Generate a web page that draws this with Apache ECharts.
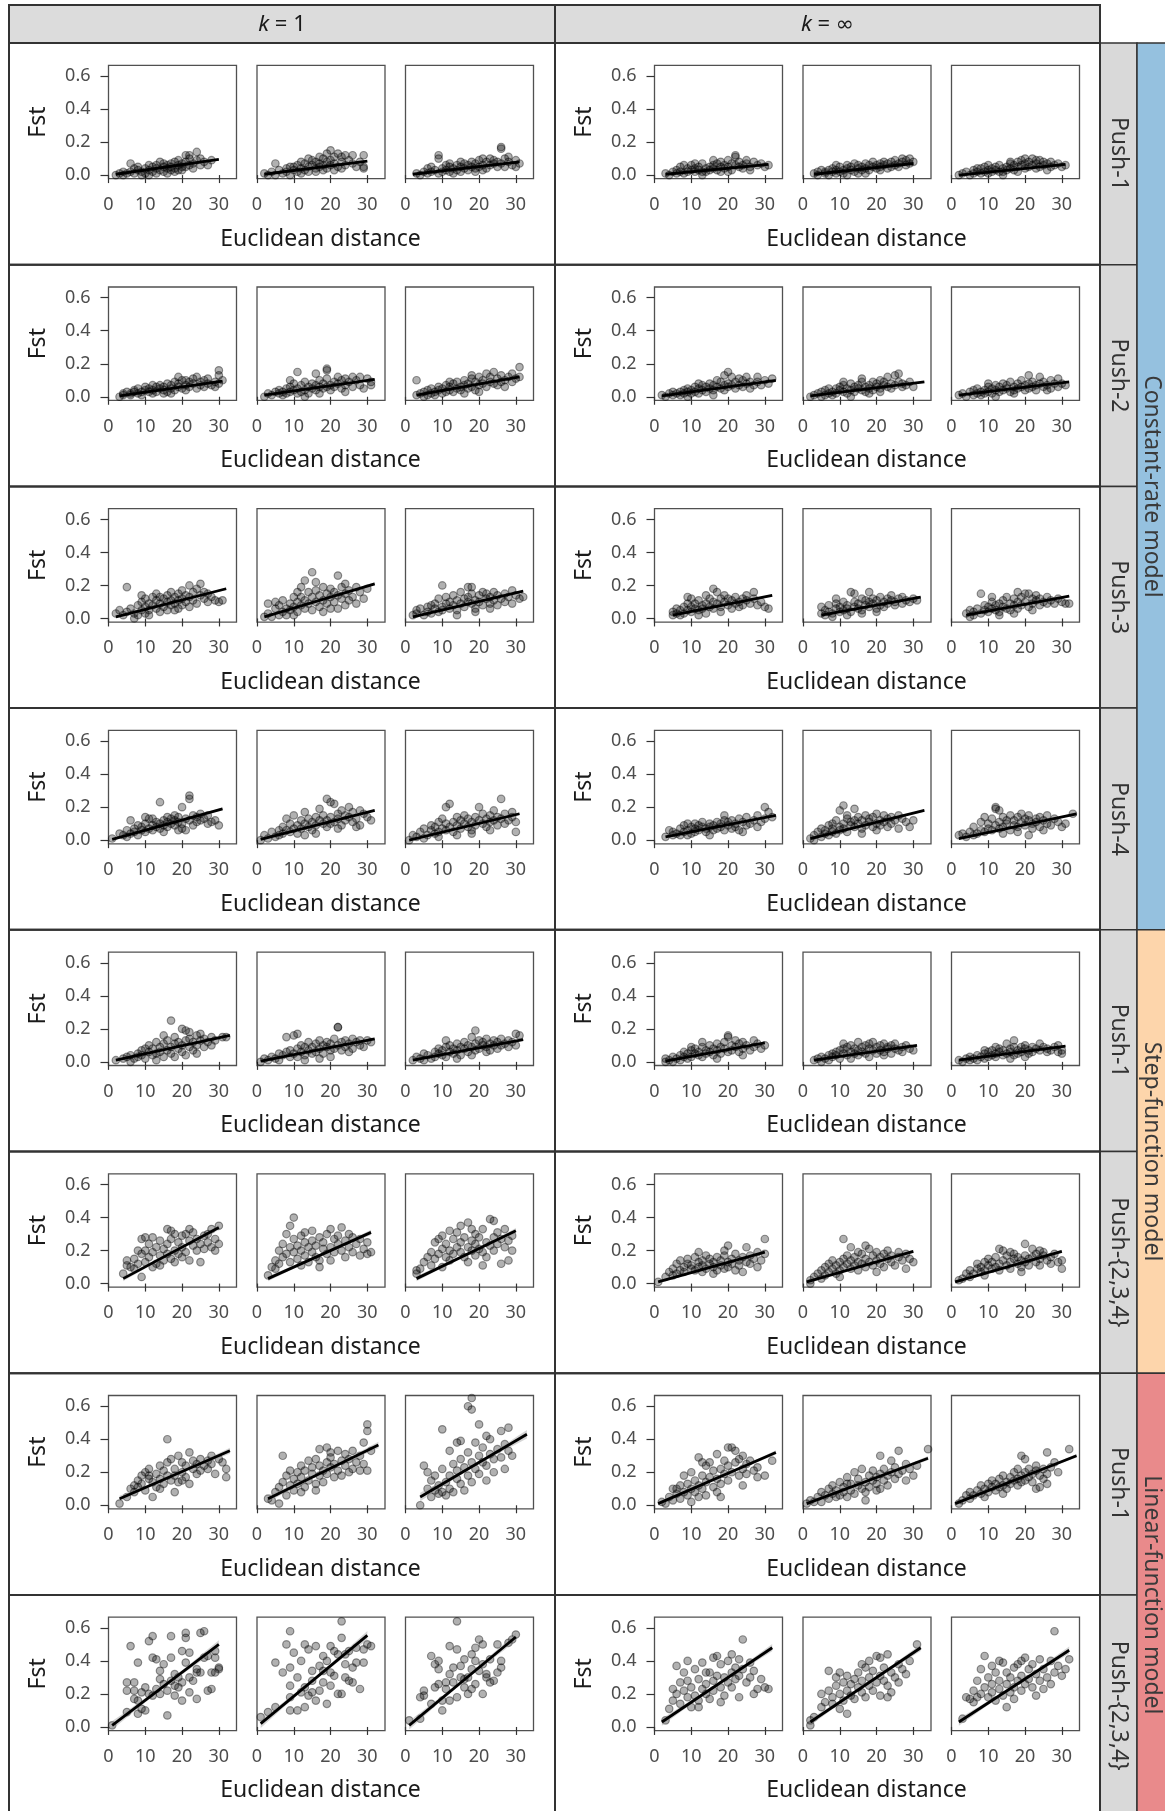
<!DOCTYPE html>
<html>
<head>
<meta charset="utf-8">
<script src="https://cdn.jsdelivr.net/npm/echarts@6/dist/echarts.min.js"></script>
<style>
  html, body { margin: 0; padding: 0; background: #ffffff; }
  #chart { width: 1165px; height: 1811px; }
</style>
</head>
<body>
<div id="chart"></div>
<script>
// ---- facet labels and axis ticks ----
const kLabels = ['1', '\u221E'];
const pushLabels = ['Push-1', 'Push-2', 'Push-3', 'Push-4', 'Push-1', 'Push-{2,3,4}', 'Push-1', 'Push-{2,3,4}'];
const modelLabels = ['Constant-rate model', 'Step-function model', 'Linear-function model'];
const modelRowSpans = [[0, 3], [4, 5], [6, 7]];
const modelColors = ['#95c1df', '#fdd5ab', '#e98a8b'];
const xTicks = [0, 10, 20, 30];
const yTicks = [0, 0.2, 0.4, 0.6];
const xTitle = 'Euclidean distance';
const yTitle = 'Fst';

// ---- pairwise points: each facet holds k=1 (3 panels) then k=inf (3 panels);
//      every panel is a flat list x, Fst, x, Fst, ... ----
const constPush1 = [
  [2,.00, 3,.01, 4,.02, 4,.00, 5,.01, 6,.07, 6,.02, 7,.01, 8,.03, 8,.05, 9,.02, 9,.00, 10,.04, 10,.01, 11,.03, 11,.06, 12,.02, 12,.05, 13,.04, 13,.01, 14,.08, 14,.03, 15,.05, 15,.02, 15,.07, 16,.04, 16,.06, 17,.03, 17,.07, 17,.05, 18,.08, 18,.04, 19,.06, 19,.09, 20,.05, 20,.07, 20,.03, 21,.12, 21,.08, 22,.06, 22,.12, 22,.10, 23,.07, 23,.04, 24,.14, 24,.09, 25,.06, 25,.10, 26,.08, 27,.06, 28,.09, 18,.02, 13,.06, 11,.00, 7,.04, 19,.03, 16,.01, 21,.05],
  [2,.01, 4,.02, 5,.07, 5,.00, 6,.03, 7,.01, 8,.02, 8,.04, 9,.00, 10,.03, 10,.05, 11,.02, 11,.06, 12,.04, 12,.01, 13,.07, 13,.03, 14,.05, 14,.02, 15,.06, 15,.09, 16,.04, 16,.08, 16,.02, 17,.11, 17,.05, 17,.07, 18,.10, 18,.03, 18,.06, 19,.13, 19,.08, 19,.04, 20,.15, 20,.06, 20,.09, 21,.11, 21,.03, 21,.07, 22,.13, 22,.05, 23,.08, 23,.04, 24,.12, 24,.06, 25,.09, 26,.07, 27,.05, 28,.08, 29,.12, 29,.05, 29,.04, 14,.10, 12,.08, 9,.05, 23,.11, 26,.12, 3,.00],
  [3,.01, 4,.00, 5,.02, 6,.01, 6,.04, 7,.02, 8,.03, 9,.12, 9,.10, 9,.01, 10,.04, 10,.02, 11,.03, 11,.06, 12,.02, 12,.05, 13,.04, 13,.01, 14,.06, 14,.03, 15,.05, 15,.02, 16,.07, 16,.04, 17,.06, 17,.03, 18,.08, 18,.05, 19,.04, 19,.07, 20,.09, 20,.05, 21,.10, 21,.06, 22,.08, 22,.04, 23,.10, 23,.06, 24,.07, 24,.09, 25,.05, 25,.08, 26,.17, 26,.16, 26,.07, 27,.10, 27,.05, 28,.08, 29,.06, 30,.09, 30,.05, 31,.07, 15,.08, 19,.02, 12,.07, 7,.05, 21,.03, 28,.11],
  [3,.01, 4,.00, 5,.02, 6,.01, 6,.03, 7,.05, 7,.02, 8,.01, 9,.04, 9,.02, 10,.03, 10,.06, 11,.02, 11,.04, 12,.03, 12,.05, 13,.02, 13,.07, 14,.04, 14,.02, 15,.05, 15,.03, 16,.06, 16,.04, 17,.03, 17,.07, 18,.05, 18,.08, 19,.04, 19,.06, 20,.09, 20,.05, 21,.07, 21,.03, 22,.12, 22,.11, 22,.06, 23,.08, 23,.05, 24,.06, 24,.04, 25,.07, 25,.09, 26,.05, 27,.08, 28,.06, 29,.07, 30,.05, 31,.06, 8,.06, 13,.00, 18,.02, 26,.03, 16,.09, 11,.07, 20,.02],
  [3,.01, 4,.02, 4,.00, 5,.03, 6,.01, 6,.02, 7,.03, 7,.00, 8,.02, 8,.04, 9,.01, 9,.03, 10,.05, 10,.02, 11,.03, 11,.01, 12,.04, 12,.06, 13,.03, 13,.05, 14,.02, 14,.07, 15,.04, 15,.06, 16,.03, 16,.05, 17,.07, 17,.04, 18,.06, 18,.03, 19,.05, 19,.08, 20,.06, 20,.04, 21,.07, 21,.05, 22,.08, 22,.06, 23,.04, 23,.07, 24,.08, 24,.05, 25,.06, 25,.09, 26,.07, 26,.05, 27,.10, 27,.08, 28,.09, 28,.06, 29,.07, 29,.10, 30,.08, 12,.00, 17,.01, 21,.03, 9,.06, 15,.01],
  [2,.00, 3,.01, 4,.02, 5,.00, 6,.01, 6,.03, 7,.02, 8,.04, 8,.01, 9,.02, 9,.05, 10,.03, 10,.01, 11,.04, 11,.02, 12,.05, 12,.03, 13,.02, 13,.06, 14,.04, 14,.02, 15,.05, 15,.03, 16,.07, 16,.04, 17,.06, 17,.03, 18,.08, 18,.05, 19,.09, 19,.06, 20,.10, 20,.04, 20,.07, 21,.08, 21,.05, 22,.10, 22,.06, 23,.07, 23,.04, 24,.09, 24,.05, 25,.08, 25,.06, 26,.07, 27,.05, 27,.08, 28,.06, 29,.07, 30,.05, 31,.06, 10,.06, 14,.00, 18,.02, 23,.09, 26,.03, 7,.04, 16,.08]
];
const constPush2 = [
  [3,.00, 4,.01, 4,.02, 5,.03, 6,.01, 6,.02, 7,.03, 7,.04, 8,.02, 8,.05, 9,.03, 9,.01, 10,.04, 10,.06, 11,.03, 11,.05, 12,.04, 12,.02, 13,.06, 13,.03, 14,.05, 14,.07, 15,.04, 15,.06, 16,.03, 16,.08, 17,.05, 17,.07, 18,.04, 18,.09, 19,.12, 19,.06, 19,.08, 20,.05, 20,.10, 21,.07, 21,.04, 22,.09, 22,.06, 23,.11, 23,.08, 24,.12, 24,.05, 25,.09, 25,.07, 26,.10, 26,.06, 27,.08, 27,.11, 28,.07, 29,.09, 29,.06, 30,.16, 30,.13, 30,.08, 31,.10, 15,.02, 12,.07, 21,.10, 17,.02],
  [2,.00, 3,.02, 4,.01, 5,.03, 6,.02, 6,.04, 7,.01, 7,.03, 8,.05, 8,.02, 9,.03, 9,.06, 10,.04, 10,.08, 11,.15, 11,.02, 11,.05, 12,.03, 12,.07, 13,.04, 13,.09, 14,.06, 14,.02, 15,.05, 15,.08, 16,.14, 16,.04, 16,.07, 17,.06, 17,.10, 18,.05, 18,.08, 19,.17, 19,.16, 19,.06, 19,.11, 20,.07, 20,.04, 21,.09, 21,.06, 22,.12, 22,.08, 23,.05, 23,.10, 24,.07, 24,.03, 25,.09, 26,.12, 26,.06, 27,.10, 28,.07, 28,.12, 29,.05, 30,.11, 31,.09, 31,.07, 13,.00, 17,.02, 9,.10, 24,.11],
  [3,.10, 3,.01, 4,.02, 5,.00, 5,.03, 6,.01, 6,.04, 7,.02, 7,.05, 8,.03, 8,.01, 9,.04, 9,.06, 10,.02, 10,.05, 11,.03, 11,.07, 12,.04, 12,.06, 13,.08, 13,.03, 14,.05, 14,.09, 15,.06, 15,.04, 16,.07, 16,.10, 17,.05, 17,.08, 18,.11, 18,.06, 19,.09, 19,.04, 20,.07, 20,.12, 21,.08, 21,.10, 22,.14, 22,.06, 23,.09, 23,.12, 24,.15, 24,.08, 25,.11, 25,.07, 26,.13, 26,.09, 27,.10, 27,.06, 28,.12, 29,.09, 29,.14, 30,.11, 31,.18, 31,.12, 16,.02, 12,.09, 20,.03, 18,.13],
  [2,.01, 3,.00, 4,.02, 5,.03, 5,.01, 6,.02, 7,.03, 7,.01, 8,.04, 8,.02, 9,.03, 9,.05, 10,.02, 10,.04, 11,.06, 11,.03, 12,.05, 12,.02, 13,.04, 13,.07, 14,.06, 14,.03, 15,.08, 15,.05, 16,.04, 16,.07, 17,.10, 17,.06, 18,.05, 18,.09, 19,.13, 19,.07, 19,.04, 20,.15, 20,.08, 20,.06, 21,.12, 21,.07, 22,.05, 22,.09, 23,.11, 23,.07, 24,.06, 24,.10, 25,.08, 26,.05, 26,.09, 27,.07, 28,.12, 28,.09, 29,.07, 30,.10, 31,.08, 32,.11, 12,.08, 16,.01, 25,.12, 9,.00],
  [2,.00, 3,.01, 4,.02, 5,.00, 5,.03, 6,.01, 6,.04, 7,.02, 8,.03, 8,.01, 9,.05, 9,.02, 10,.04, 10,.06, 11,.03, 11,.07, 12,.02, 12,.05, 13,.04, 13,.08, 14,.03, 14,.06, 15,.05, 15,.07, 16,.04, 16,.09, 17,.06, 17,.03, 18,.07, 18,.05, 19,.09, 19,.04, 20,.06, 20,.08, 21,.10, 21,.05, 22,.07, 22,.09, 23,.12, 23,.06, 24,.08, 24,.05, 25,.13, 25,.07, 26,.14, 26,.09, 27,.06, 27,.08, 28,.07, 29,.09, 30,.06, 13,.00, 18,.02, 11,.09, 21,.03, 16,.11, 7,.05],
  [2,.01, 3,.02, 4,.00, 5,.03, 6,.01, 6,.04, 7,.02, 7,.05, 8,.03, 8,.01, 9,.04, 9,.02, 10,.06, 10,.03, 11,.05, 11,.02, 12,.04, 12,.07, 13,.03, 13,.06, 14,.08, 14,.04, 15,.05, 15,.07, 16,.03, 16,.09, 17,.06, 17,.04, 18,.08, 18,.05, 19,.10, 19,.06, 20,.07, 20,.04, 21,.13, 21,.08, 21,.05, 22,.09, 22,.06, 23,.07, 23,.04, 24,.12, 24,.08, 25,.06, 25,.09, 26,.07, 27,.10, 27,.05, 28,.08, 29,.11, 29,.06, 30,.08, 31,.07, 12,.00, 17,.02, 10,.08, 26,.04]
];
const constPush3 = [
  [2,.03, 3,.05, 4,.02, 5,.19, 5,.04, 6,.06, 7,.00, 7,.03, 8,.08, 8,.02, 9,.05, 9,.10, 10,.07, 10,.12, 10,.03, 11,.09, 11,.05, 12,.13, 12,.08, 13,.06, 13,.11, 13,.15, 14,.09, 14,.04, 15,.12, 15,.07, 16,.14, 16,.10, 16,.05, 17,.11, 17,.16, 17,.08, 18,.13, 18,.09, 19,.15, 19,.06, 19,.11, 20,.17, 20,.12, 20,.08, 21,.14, 21,.10, 22,.20, 22,.13, 22,.07, 23,.16, 23,.11, 24,.18, 24,.09, 25,.21, 25,.14, 26,.12, 26,.16, 27,.10, 27,.15, 28,.13, 29,.11, 30,.10, 31,.11, 14,.13, 11,.02, 18,.05, 9,.14],
  [2,.01, 3,.09, 3,.03, 4,.01, 5,.06, 5,.10, 6,.02, 6,.08, 7,.04, 7,.11, 8,.06, 8,.02, 9,.09, 9,.05, 10,.13, 10,.07, 11,.04, 11,.16, 11,.10, 12,.08, 12,.13, 13,.23, 13,.06, 13,.11, 14,.16, 14,.09, 15,.28, 15,.05, 15,.13, 16,.22, 16,.10, 16,.17, 17,.07, 17,.14, 18,.19, 18,.11, 19,.09, 19,.15, 20,.13, 20,.18, 20,.06, 21,.16, 21,.10, 22,.26, 22,.14, 22,.06, 23,.19, 23,.12, 24,.15, 24,.21, 25,.11, 25,.17, 26,.13, 27,.19, 27,.09, 28,.16, 29,.12, 30,.18, 10,.02, 18,.04, 12,.19, 24,.08],
  [2,.02, 3,.05, 3,.03, 4,.06, 5,.02, 6,.07, 6,.04, 7,.03, 8,.06, 8,.09, 9,.04, 9,.12, 10,.20, 10,.07, 10,.05, 11,.09, 11,.13, 12,.06, 12,.10, 13,.08, 13,.14, 14,.11, 14,.05, 15,.09, 15,.16, 16,.12, 16,.07, 17,.19, 17,.10, 17,.13, 18,.19, 18,.09, 18,.15, 19,.11, 19,.06, 20,.14, 20,.10, 21,.16, 21,.08, 22,.12, 22,.15, 23,.09, 23,.13, 24,.11, 24,.16, 25,.14, 25,.08, 26,.12, 27,.15, 27,.10, 28,.13, 29,.17, 29,.09, 30,.14, 31,.12, 32,.13, 14,.02, 19,.04, 7,.08, 23,.06],
  [5,.02, 5,.04, 6,.03, 6,.06, 7,.02, 7,.05, 8,.07, 8,.03, 9,.05, 9,.09, 10,.04, 10,.12, 10,.07, 11,.06, 11,.09, 12,.05, 12,.11, 13,.08, 13,.06, 14,.14, 14,.09, 15,.07, 15,.12, 16,.18, 16,.10, 16,.06, 17,.16, 17,.09, 18,.12, 18,.07, 19,.10, 19,.14, 20,.08, 20,.12, 21,.11, 21,.06, 22,.13, 22,.09, 23,.10, 23,.07, 24,.12, 24,.08, 25,.11, 26,.09, 27,.16, 27,.12, 28,.08, 29,.10, 30,.07, 31,.06, 12,.02, 18,.04, 9,.13, 25,.14, 14,.03],
  [5,.03, 5,.07, 6,.02, 6,.05, 7,.04, 7,.08, 8,.01, 8,.03, 9,.06, 9,.09, 10,.04, 10,.07, 11,.05, 11,.10, 12,.06, 12,.08, 13,.16, 13,.04, 14,.15, 14,.07, 14,.10, 15,.06, 15,.09, 16,.12, 16,.05, 17,.08, 17,.11, 18,.16, 18,.07, 18,.10, 19,.09, 19,.12, 20,.06, 20,.11, 21,.08, 21,.13, 22,.10, 22,.07, 23,.12, 23,.09, 24,.11, 24,.14, 25,.08, 25,.10, 26,.12, 27,.09, 27,.13, 28,.11, 29,.10, 30,.12, 31,.11, 12,.02, 16,.03, 20,.04, 9,.12],
  [4,.03, 5,.01, 5,.05, 6,.02, 6,.04, 7,.06, 8,.15, 8,.03, 9,.05, 9,.08, 10,.04, 10,.07, 11,.06, 11,.10, 12,.05, 12,.08, 13,.09, 13,.04, 14,.11, 14,.07, 15,.06, 15,.13, 16,.09, 16,.05, 17,.12, 17,.08, 18,.16, 18,.10, 18,.06, 19,.13, 19,.08, 20,.15, 20,.10, 21,.15, 21,.07, 22,.12, 22,.09, 23,.11, 23,.14, 24,.08, 24,.12, 25,.10, 26,.13, 26,.09, 27,.11, 28,.09, 29,.12, 30,.10, 31,.09, 32,.09, 13,.02, 17,.03, 11,.13, 22,.05]
];
const constPush4 = [
  [1,.01, 3,.04, 4,.03, 5,.02, 5,.06, 6,.12, 6,.04, 7,.07, 7,.05, 8,.03, 8,.09, 9,.06, 9,.08, 10,.10, 10,.05, 11,.07, 11,.13, 12,.09, 12,.06, 13,.11, 13,.08, 14,.23, 14,.10, 14,.07, 15,.12, 15,.09, 16,.14, 16,.11, 16,.08, 17,.13, 17,.10, 18,.12, 18,.15, 18,.09, 19,.11, 19,.14, 20,.20, 20,.10, 20,.07, 21,.13, 21,.06, 22,.27, 22,.25, 22,.12, 23,.15, 23,.09, 24,.14, 24,.11, 25,.16, 25,.12, 26,.13, 27,.10, 27,.15, 28,.11, 29,.12, 30,.09, 15,.05, 12,.13, 19,.06, 10,.14],
  [1,.00, 2,.03, 3,.01, 4,.05, 5,.02, 6,.06, 6,.03, 7,.08, 7,.04, 8,.13, 8,.06, 9,.10, 9,.05, 10,.07, 10,.15, 11,.09, 11,.04, 12,.12, 12,.07, 13,.10, 13,.17, 14,.08, 14,.13, 15,.11, 15,.06, 16,.14, 16,.09, 17,.12, 17,.19, 18,.10, 18,.15, 19,.25, 19,.12, 19,.08, 20,.23, 20,.14, 20,.10, 21,.22, 21,.11, 22,.16, 22,.13, 23,.18, 23,.09, 24,.15, 24,.12, 25,.20, 25,.14, 26,.11, 26,.17, 27,.13, 28,.18, 28,.09, 29,.16, 30,.14, 31,.12, 16,.04, 13,.03, 22,.07, 27,.08],
  [1,.00, 2,.03, 3,.02, 4,.05, 5,.01, 5,.07, 6,.03, 7,.06, 7,.09, 8,.04, 8,.08, 9,.05, 9,.11, 10,.07, 10,.13, 11,.20, 11,.06, 11,.10, 12,.22, 12,.08, 13,.11, 13,.05, 14,.09, 14,.14, 15,.07, 15,.12, 16,.10, 16,.15, 17,.08, 17,.13, 18,.11, 18,.06, 19,.14, 19,.09, 20,.20, 20,.12, 21,.10, 21,.16, 22,.13, 22,.08, 23,.15, 23,.11, 24,.12, 24,.18, 25,.09, 25,.14, 26,.25, 26,.13, 27,.16, 27,.10, 28,.12, 29,.17, 29,.14, 30,.05, 30,.11, 14,.03, 18,.04, 23,.06, 9,.02],
  [3,.02, 4,.06, 5,.03, 5,.05, 6,.04, 7,.07, 7,.03, 8,.09, 8,.05, 9,.06, 9,.10, 10,.04, 10,.08, 11,.07, 11,.05, 12,.09, 12,.06, 13,.11, 13,.08, 14,.07, 14,.05, 15,.10, 15,.08, 16,.06, 16,.09, 17,.11, 17,.07, 18,.08, 18,.10, 19,.15, 19,.06, 20,.09, 20,.11, 21,.07, 21,.12, 22,.10, 22,.08, 23,.13, 23,.06, 24,.11, 25,.09, 25,.14, 26,.10, 27,.12, 28,.15, 28,.08, 29,.11, 30,.20, 30,.13, 31,.17, 32,.14, 11,.10, 15,.03, 19,.12, 24,.05, 9,.03],
  [2,.01, 3,.00, 3,.03, 4,.05, 5,.02, 5,.07, 6,.04, 6,.06, 7,.09, 7,.03, 8,.07, 8,.05, 9,.12, 9,.04, 10,.18, 10,.08, 10,.06, 11,.21, 11,.10, 11,.07, 12,.13, 12,.05, 13,.09, 13,.11, 14,.19, 14,.08, 14,.12, 15,.10, 15,.14, 16,.07, 16,.12, 17,.15, 17,.09, 18,.11, 18,.13, 19,.08, 19,.14, 20,.10, 20,.16, 21,.12, 21,.09, 22,.15, 22,.11, 23,.13, 23,.08, 24,.14, 24,.10, 25,.12, 26,.15, 26,.07, 27,.13, 28,.11, 29,.08, 30,.12, 12,.15, 16,.04, 20,.06, 8,.10],
  [2,.03, 3,.04, 4,.02, 5,.05, 6,.03, 6,.08, 7,.04, 8,.06, 8,.11, 9,.05, 9,.14, 10,.07, 10,.10, 11,.13, 11,.06, 12,.20, 12,.19, 12,.09, 13,.18, 13,.11, 13,.07, 14,.14, 14,.08, 15,.10, 15,.12, 16,.06, 16,.15, 17,.09, 17,.12, 18,.14, 18,.08, 19,.11, 19,.16, 20,.13, 20,.09, 21,.12, 21,.15, 22,.10, 22,.07, 23,.13, 23,.11, 24,.14, 24,.08, 25,.12, 26,.10, 26,.15, 27,.09, 28,.13, 29,.11, 30,.08, 31,.10, 33,.16, 14,.04, 18,.05, 21,.03, 25,.06]
];
const stepPush1 = [
  [2,.01, 4,.02, 5,.03, 6,.00, 6,.04, 7,.02, 8,.05, 8,.03, 9,.07, 9,.04, 10,.08, 10,.02, 11,.06, 11,.10, 12,.04, 12,.08, 13,.12, 13,.05, 14,.09, 14,.06, 15,.11, 15,.03, 16,.07, 16,.13, 17,.25, 17,.09, 17,.05, 18,.11, 18,.15, 19,.08, 19,.12, 20,.20, 20,.06, 20,.10, 21,.19, 21,.13, 21,.04, 22,.18, 22,.09, 22,.14, 23,.12, 23,.07, 24,.16, 24,.10, 25,.13, 25,.17, 26,.09, 26,.14, 27,.12, 28,.15, 28,.10, 29,.13, 31,.15, 32,.15, 13,.01, 18,.03, 24,.05, 15,.16],
  [1,.00, 2,.02, 3,.01, 4,.03, 5,.02, 6,.05, 6,.01, 7,.04, 8,.15, 8,.06, 9,.03, 9,.07, 10,.16, 10,.05, 11,.17, 11,.08, 11,.03, 12,.06, 12,.10, 13,.04, 13,.09, 14,.07, 14,.12, 15,.05, 15,.09, 16,.11, 16,.06, 17,.08, 17,.13, 18,.10, 18,.05, 19,.09, 19,.12, 20,.07, 20,.11, 21,.14, 21,.08, 22,.21, 22,.21, 22,.10, 23,.12, 23,.07, 24,.13, 24,.09, 25,.11, 26,.14, 26,.08, 27,.12, 28,.13, 28,.10, 29,.09, 30,.13, 31,.12, 13,.01, 17,.02, 20,.03, 25,.06],
  [2,.01, 3,.03, 4,.02, 5,.05, 5,.01, 6,.04, 7,.02, 8,.06, 8,.03, 9,.05, 9,.08, 10,.04, 10,.07, 11,.09, 11,.03, 12,.06, 12,.10, 13,.08, 13,.05, 14,.11, 14,.07, 15,.09, 15,.04, 16,.12, 16,.08, 17,.06, 17,.10, 18,.15, 18,.09, 19,.19, 19,.11, 19,.07, 20,.13, 20,.08, 21,.10, 21,.12, 22,.09, 22,.14, 23,.11, 23,.07, 24,.13, 24,.10, 25,.08, 25,.12, 26,.14, 26,.10, 27,.11, 28,.09, 28,.13, 29,.12, 30,.17, 30,.10, 31,.16, 14,.02, 18,.04, 22,.06, 11,.13],
  [3,.00, 3,.02, 4,.01, 5,.03, 5,.00, 6,.02, 7,.04, 7,.01, 8,.03, 8,.06, 9,.02, 9,.05, 10,.07, 10,.03, 11,.05, 11,.08, 12,.04, 12,.06, 13,.09, 13,.03, 14,.07, 14,.05, 15,.10, 15,.06, 16,.08, 16,.04, 17,.11, 17,.07, 18,.09, 18,.05, 19,.12, 19,.08, 20,.16, 20,.15, 20,.06, 21,.10, 21,.07, 22,.13, 22,.09, 23,.11, 23,.06, 24,.08, 24,.12, 25,.10, 26,.07, 27,.13, 27,.09, 28,.11, 29,.08, 30,.10, 13,.12, 17,.02, 10,.09, 24,.04],
  [3,.01, 4,.02, 5,.00, 5,.03, 6,.02, 7,.04, 7,.01, 8,.03, 8,.05, 9,.04, 9,.06, 10,.02, 10,.07, 11,.05, 11,.08, 12,.04, 12,.09, 13,.06, 13,.10, 14,.05, 14,.08, 15,.12, 15,.07, 15,.04, 16,.09, 16,.06, 17,.10, 17,.05, 18,.08, 18,.11, 19,.12, 19,.07, 20,.09, 20,.05, 21,.10, 21,.07, 22,.11, 22,.06, 23,.09, 23,.08, 24,.10, 24,.05, 25,.08, 25,.11, 26,.07, 27,.09, 27,.06, 28,.10, 29,.08, 30,.07, 13,.02, 18,.03, 22,.04, 11,.11],
  [2,.01, 3,.00, 4,.02, 5,.01, 5,.03, 6,.02, 7,.04, 7,.01, 8,.03, 9,.05, 9,.02, 10,.06, 10,.03, 11,.04, 11,.07, 12,.05, 12,.03, 13,.08, 13,.06, 14,.04, 14,.07, 15,.11, 15,.05, 16,.08, 16,.06, 17,.13, 17,.09, 17,.04, 18,.07, 18,.05, 19,.09, 19,.06, 20,.08, 20,.10, 21,.07, 21,.05, 22,.09, 22,.06, 23,.08, 24,.11, 24,.07, 25,.09, 26,.06, 26,.08, 27,.07, 28,.09, 29,.10, 29,.06, 30,.05, 30,.07, 12,.09, 16,.02, 20,.03, 9,.07]
];
const stepPush234 = [
  [4,.06, 5,.14, 5,.11, 6,.10, 7,.09, 7,.15, 8,.20, 8,.12, 9,.04, 9,.27, 9,.18, 10,.28, 10,.13, 10,.20, 11,.16, 11,.24, 12,.10, 12,.19, 13,.22, 13,.12, 14,.17, 14,.26, 15,.14, 15,.21, 16,.33, 16,.18, 16,.24, 17,.32, 17,.15, 17,.27, 18,.20, 18,.13, 19,.25, 19,.18, 20,.29, 20,.16, 20,.22, 21,.30, 21,.19, 22,.26, 22,.14, 23,.23, 23,.31, 24,.20, 24,.27, 25,.13, 25,.24, 26,.29, 26,.21, 27,.25, 27,.30, 28,.22, 28,.33, 29,.27, 29,.20, 30,.35, 30,.24, 18,.30, 12,.28, 22,.33, 14,.11],
  [3,.05, 4,.10, 5,.09, 5,.14, 6,.20, 6,.12, 7,.24, 7,.16, 8,.18, 8,.30, 9,.35, 9,.22, 9,.13, 10,.40, 10,.19, 10,.27, 11,.15, 11,.23, 12,.29, 12,.11, 12,.20, 13,.17, 13,.25, 14,.22, 14,.13, 15,.32, 15,.19, 15,.26, 16,.16, 16,.23, 17,.28, 17,.14, 18,.21, 18,.25, 19,.18, 19,.30, 20,.22, 20,.14, 21,.27, 21,.19, 22,.24, 22,.29, 23,.34, 23,.20, 24,.26, 24,.16, 25,.22, 25,.30, 26,.19, 26,.28, 27,.24, 28,.17, 28,.27, 29,.21, 30,.18, 30,.25, 31,.19, 17,.10, 13,.31, 20,.33],
  [3,.06, 3,.08, 4,.09, 5,.13, 6,.16, 7,.11, 7,.19, 8,.15, 8,.25, 9,.18, 9,.27, 10,.10, 10,.21, 10,.29, 11,.16, 11,.24, 12,.20, 12,.14, 13,.27, 13,.18, 14,.22, 14,.31, 15,.35, 15,.19, 15,.25, 16,.28, 16,.16, 17,.37, 17,.22, 17,.13, 18,.26, 18,.20, 19,.30, 19,.17, 19,.24, 20,.21, 20,.28, 21,.33, 21,.19, 22,.25, 22,.16, 23,.39, 23,.23, 24,.38, 24,.28, 24,.20, 25,.31, 25,.24, 26,.27, 26,.12, 27,.22, 27,.33, 28,.26, 28,.14, 29,.29, 29,.20, 12,.32, 18,.33, 21,.11],
  [1,.01, 3,.04, 4,.07, 5,.05, 5,.09, 6,.06, 6,.12, 7,.08, 7,.14, 8,.10, 8,.07, 9,.12, 9,.15, 10,.09, 10,.11, 11,.16, 11,.08, 12,.19, 12,.13, 12,.10, 13,.11, 13,.14, 14,.09, 14,.17, 15,.12, 15,.15, 16,.10, 16,.13, 17,.16, 17,.08, 18,.14, 18,.11, 19,.17, 19,.09, 20,.23, 20,.13, 20,.10, 21,.15, 21,.12, 22,.18, 22,.08, 23,.14, 23,.11, 24,.16, 24,.07, 25,.22, 25,.13, 26,.17, 26,.12, 27,.15, 28,.19, 28,.10, 29,.14, 30,.27, 30,.18, 16,.06, 13,.07, 19,.20],
  [2,.00, 2,.02, 3,.04, 4,.06, 5,.03, 5,.08, 6,.10, 6,.05, 7,.07, 7,.12, 8,.09, 8,.14, 9,.06, 9,.11, 10,.13, 10,.08, 11,.27, 11,.15, 11,.10, 12,.12, 12,.17, 13,.22, 13,.09, 13,.14, 14,.11, 14,.16, 15,.13, 15,.08, 16,.18, 16,.12, 17,.23, 17,.15, 17,.10, 18,.21, 18,.13, 19,.17, 19,.11, 20,.14, 20,.19, 21,.12, 21,.16, 22,.18, 22,.10, 23,.15, 23,.20, 24,.13, 24,.17, 25,.11, 26,.16, 26,.19, 27,.14, 28,.18, 28,.09, 29,.15, 30,.13, 10,.04, 15,.19, 20,.07],
  [2,.02, 3,.03, 4,.06, 5,.04, 5,.08, 6,.06, 7,.09, 7,.12, 8,.07, 8,.10, 9,.13, 9,.08, 10,.11, 10,.15, 11,.09, 11,.13, 12,.16, 12,.10, 13,.21, 13,.12, 13,.08, 14,.20, 14,.14, 15,.11, 15,.17, 16,.13, 16,.09, 17,.15, 17,.18, 18,.12, 18,.16, 19,.14, 19,.10, 20,.24, 20,.17, 20,.13, 21,.15, 21,.11, 22,.21, 22,.16, 23,.13, 23,.18, 24,.15, 24,.11, 25,.17, 25,.19, 26,.14, 27,.16, 27,.12, 28,.18, 29,.13, 30,.09, 30,.14, 16,.19, 9,.05, 19,.07, 24,.20]
];
const linPush1 = [
  [3,.01, 5,.05, 6,.10, 7,.12, 7,.08, 8,.15, 8,.11, 9,.18, 9,.13, 10,.20, 10,.09, 11,.16, 11,.22, 12,.05, 12,.14, 13,.19, 13,.11, 14,.24, 14,.16, 15,.21, 15,.13, 16,.40, 16,.18, 16,.26, 17,.28, 17,.15, 18,.22, 18,.08, 18,.18, 19,.30, 19,.14, 20,.20, 20,.26, 21,.17, 21,.24, 22,.32, 22,.13, 23,.22, 23,.27, 24,.19, 24,.25, 25,.28, 25,.21, 26,.24, 27,.27, 27,.22, 28,.30, 28,.25, 29,.19, 30,.28, 31,.26, 32,.17, 32,.22, 14,.10, 20,.15, 11,.18],
  [3,.04, 4,.03, 5,.08, 6,.01, 6,.11, 7,.14, 7,.30, 8,.06, 8,.18, 9,.12, 9,.21, 10,.16, 10,.09, 11,.20, 11,.13, 12,.24, 12,.17, 13,.11, 13,.21, 14,.27, 14,.15, 15,.19, 15,.23, 16,.13, 16,.28, 17,.34, 17,.18, 17,.24, 18,.21, 18,.14, 19,.35, 19,.26, 19,.19, 20,.23, 20,.29, 21,.17, 21,.25, 22,.33, 22,.21, 23,.27, 23,.18, 24,.31, 24,.24, 25,.20, 25,.28, 26,.33, 26,.22, 27,.26, 28,.30, 28,.21, 29,.38, 29,.25, 30,.49, 30,.45, 30,.21, 31,.33, 12,.08, 20,.32, 16,.09],
  [4,.00, 5,.24, 6,.10, 6,.20, 7,.05, 7,.15, 8,.09, 8,.18, 9,.07, 9,.12, 10,.46, 10,.22, 10,.08, 11,.14, 11,.06, 12,.18, 12,.10, 13,.25, 13,.08, 14,.16, 14,.21, 15,.39, 15,.13, 15,.28, 16,.09, 16,.23, 17,.60, 17,.18, 17,.32, 18,.65, 18,.58, 18,.26, 18,.14, 19,.22, 19,.38, 20,.49, 20,.30, 20,.19, 21,.26, 21,.35, 22,.24, 22,.15, 23,.31, 23,.40, 24,.28, 24,.20, 25,.34, 26,.45, 26,.29, 27,.37, 27,.22, 28,.47, 28,.33, 29,.30, 14,.38, 12,.33, 22,.42],
  [2,.02, 3,.01, 4,.05, 5,.10, 5,.03, 6,.07, 6,.10, 7,.04, 7,.12, 8,.08, 8,.18, 9,.13, 9,.06, 10,.20, 10,.10, 11,.15, 11,.08, 12,.29, 12,.12, 12,.05, 13,.18, 13,.10, 14,.24, 14,.14, 14,.06, 15,.17, 15,.26, 16,.11, 16,.21, 17,.31, 17,.16, 17,.08, 18,.22, 18,.13, 19,.27, 19,.19, 20,.35, 20,.24, 20,.15, 21,.35, 21,.20, 22,.33, 22,.26, 23,.18, 23,.28, 24,.22, 24,.30, 25,.19, 25,.25, 26,.27, 27,.21, 28,.23, 28,.17, 30,.18, 32,.27, 13,.26, 10,.02, 18,.05, 24,.12],
  [1,.01, 2,.03, 3,.02, 4,.05, 5,.08, 5,.02, 6,.06, 7,.10, 7,.04, 8,.07, 8,.12, 9,.05, 9,.09, 10,.14, 10,.06, 11,.11, 11,.08, 12,.17, 12,.05, 13,.09, 13,.13, 14,.20, 14,.07, 15,.12, 15,.16, 16,.10, 16,.22, 17,.14, 17,.08, 18,.18, 18,.11, 19,.15, 19,.21, 20,.13, 20,.17, 21,.30, 21,.19, 21,.10, 22,.15, 22,.22, 23,.18, 23,.12, 24,.27, 24,.20, 25,.16, 25,.23, 26,.33, 26,.19, 27,.21, 28,.25, 28,.15, 29,.22, 30,.18, 31,.24, 34,.34, 17,.03, 12,.13, 20,.09],
  [2,.01, 3,.03, 4,.06, 5,.04, 5,.08, 6,.06, 7,.09, 8,.12, 8,.07, 9,.10, 9,.05, 10,.13, 10,.08, 11,.11, 11,.15, 12,.09, 12,.13, 13,.16, 13,.11, 14,.12, 14,.18, 15,.14, 15,.10, 16,.17, 16,.13, 17,.15, 17,.20, 18,.16, 18,.12, 19,.30, 19,.18, 19,.14, 20,.28, 20,.20, 20,.15, 21,.17, 21,.22, 22,.19, 22,.14, 23,.21, 23,.24, 24,.18, 24,.11, 25,.22, 25,.16, 26,.32, 26,.19, 26,.13, 27,.23, 28,.26, 29,.20, 32,.34, 14,.07, 18,.22, 23,.10]
];
const linPush234 = [
  [1,.01, 5,.27, 5,.22, 5,.09, 6,.49, 7,.22, 7,.27, 7,.17, 8,.16, 8,.39, 8,.08, 9,.21, 9,.11, 10,.10, 10,.24, 11,.52, 11,.20, 12,.55, 12,.42, 12,.19, 13,.41, 13,.23, 14,.34, 14,.20, 15,.26, 15,.38, 16,.22, 16,.07, 17,.55, 17,.42, 17,.28, 18,.25, 18,.19, 19,.30, 19,.24, 20,.46, 20,.16, 20,.27, 21,.57, 21,.54, 21,.39, 22,.30, 22,.21, 23,.28, 24,.33, 24,.17, 24,.35, 25,.57, 25,.33, 26,.58, 26,.42, 27,.43, 27,.22, 28,.33, 28,.23, 29,.46, 29,.42, 29,.33, 30,.36, 30,.35, 18,.32, 14,.29, 22,.45],
  [1,.06, 3,.09, 5,.12, 5,.39, 7,.33, 8,.50, 9,.58, 9,.36, 9,.25, 9,.18, 9,.10, 11,.10, 11,.30, 12,.40, 12,.21, 13,.12, 13,.50, 13,.24, 14,.19, 14,.47, 15,.34, 15,.28, 15,.21, 16,.49, 16,.16, 17,.22, 17,.37, 18,.34, 18,.27, 19,.40, 19,.14, 20,.49, 20,.33, 21,.46, 21,.31, 22,.44, 22,.20, 23,.64, 23,.54, 23,.20, 24,.30, 24,.44, 25,.28, 25,.46, 26,.27, 26,.36, 27,.39, 27,.48, 28,.23, 29,.39, 29,.47, 30,.50, 31,.49, 10,.45, 18,.43, 20,.25, 24,.38],
  [1,.04, 4,.05, 4,.18, 5,.19, 5,.22, 7,.43, 7,.14, 8,.24, 8,.38, 9,.40, 9,.35, 9,.26, 10,.10, 10,.16, 11,.23, 11,.27, 12,.49, 12,.32, 12,.16, 13,.27, 14,.64, 14,.47, 14,.18, 15,.37, 15,.30, 16,.24, 16,.29, 17,.20, 18,.44, 18,.23, 18,.35, 19,.48, 19,.26, 19,.40, 20,.34, 20,.53, 21,.50, 21,.20, 22,.30, 22,.32, 23,.41, 23,.27, 24,.28, 25,.50, 26,.40, 26,.36, 28,.51, 29,.53, 30,.56, 16,.41, 13,.36, 21,.38, 25,.33, 17,.30],
  [3,.04, 4,.11, 5,.23, 5,.16, 6,.37, 6,.20, 7,.27, 7,.14, 8,.22, 8,.33, 9,.40, 9,.18, 9,.28, 10,.12, 10,.24, 11,.35, 11,.19, 12,.29, 12,.16, 13,.23, 13,.39, 14,.26, 14,.20, 15,.33, 15,.17, 16,.42, 16,.28, 16,.22, 17,.43, 17,.31, 18,.24, 18,.38, 19,.30, 19,.19, 20,.40, 20,.27, 21,.44, 21,.33, 21,.24, 22,.29, 22,.36, 23,.31, 23,.18, 24,.53, 24,.35, 25,.27, 26,.39, 26,.30, 27,.34, 28,.23, 29,.29, 30,.24, 31,.23, 12,.12, 18,.15, 23,.41, 27,.20, 14,.33],
  [2,.01, 2,.04, 3,.06, 5,.12, 5,.20, 6,.15, 7,.22, 7,.34, 8,.18, 8,.14, 9,.25, 9,.30, 10,.20, 10,.33, 11,.16, 11,.27, 12,.22, 12,.31, 12,.08, 13,.19, 13,.26, 14,.29, 14,.17, 15,.24, 15,.33, 16,.21, 16,.28, 17,.36, 17,.18, 18,.40, 18,.25, 18,.30, 19,.22, 19,.34, 20,.43, 20,.27, 21,.42, 21,.31, 21,.19, 22,.28, 22,.36, 23,.44, 23,.25, 24,.33, 24,.21, 25,.30, 26,.38, 26,.27, 27,.35, 28,.32, 29,.40, 31,.50, 10,.11, 16,.38, 23,.18],
  [3,.05, 4,.18, 5,.17, 6,.22, 6,.15, 7,.28, 7,.18, 8,.35, 8,.20, 9,.43, 9,.24, 10,.18, 10,.30, 11,.21, 11,.26, 12,.16, 12,.33, 13,.40, 13,.23, 13,.28, 14,.39, 14,.19, 15,.26, 15,.33, 16,.21, 16,.30, 17,.36, 17,.24, 17,.17, 18,.28, 18,.38, 19,.22, 19,.31, 20,.42, 20,.26, 21,.35, 21,.29, 22,.24, 22,.38, 23,.32, 23,.19, 24,.41, 24,.28, 25,.35, 25,.23, 26,.30, 27,.40, 27,.26, 28,.58, 28,.33, 29,.37, 30,.31, 31,.35, 32,.41, 11,.37, 15,.12, 19,.40]
];

// ---- fitted linear trends: [x start, Fst start, x end, Fst end, CI half-width at ends] ----
const constPush1Fit = [[2,.005,30,.095,.004],[2,.005,30,.085,.004],[2,.005,31,.08,.004],[3,.005,31,.065,.003],[3,.005,30,.07,.003],[2,0,31,.065,.003]];
const constPush2Fit = [[3,.005,31,.095,.004],[2,.01,32,.105,.005],[3,.01,31,.12,.005],[2,.005,33,.10,.004],[2,.005,33,.09,.004],[2,.01,32,.09,.004]];
const constPush3Fit = [[2,.01,32,.18,.008],[2,.01,32,.21,.01],[2,.01,32,.165,.007],[5,.02,32,.14,.006],[5,.02,32,.13,.006],[4,.02,32,.135,.006]];
const constPush4Fit = [[1,.005,31,.19,.008],[1,.005,32,.18,.008],[1,0,31,.16,.008],[3,.02,33,.15,.006],[2,.01,33,.18,.007],[2,.01,34,.16,.007]];
const stepPush1Fit = [[2,.01,33,.16,.007],[1,.005,32,.14,.006],[2,.01,32,.135,.006],[3,.005,30,.115,.005],[3,.01,31,.10,.004],[2,.01,31,.095,.004]];
const stepPush234Fit = [[4,.03,30,.34,.016],[3,.03,31,.31,.016],[3,.03,30,.32,.016],[1,.01,30,.19,.01],[1,.01,30,.195,.01],[1,.01,30,.195,.01]];
const linPush1Fit = [[3,.04,33,.33,.018],[3,.04,33,.365,.02],[4,.05,33,.43,.026],[1,.01,33,.32,.013],[1,.01,34,.285,.013],[1,.01,34,.30,.011]];
const linPush234Fit = [[1,.01,30,.50,.026],[1,.02,30,.555,.026],[1,.01,30,.545,.026],[2,.03,32,.48,.022],[2,.03,32,.48,.02],[2,.03,32,.465,.022]];

const facetPoints = [constPush1, constPush2, constPush3, constPush4, stepPush1, stepPush234, linPush1, linPush234];
const facetFits = [constPush1Fit, constPush2Fit, constPush3Fit, constPush4Fit, stepPush1Fit, stepPush234Fit, linPush1Fit, linPush234Fit];

// ---- page layout (px) ----
const FONT = '"Noto Sans", "DejaVu Sans", sans-serif';
const colLeft = [9, 555], colRight = [555, 1100];
const headTop = 5, panelTop = 43, rowH = 221.7;
const boxOffset = [99.5, 248, 396.5], boxW = 128, boxTopOff = 22.3, boxH = 113.4;
const stripX = 1100, stripW = 37, modelX = 1137, modelW = 32;
const X_MIN = 0, X_MAX = 34.8, Y_MIN = -0.022, Y_MAX = 0.665;

function pairs(flat) {
  const out = [];
  for (let i = 0; i + 1 < flat.length; i += 2) out.push([flat[i], flat[i + 1]]);
  return out;
}

function renderBand(params, api) {
  const x0 = api.value(0), y0 = api.value(1), x1 = api.value(2), y1 = api.value(3), hw = api.value(4);
  const n = 12, up = [], lo = [];
  for (let i = 0; i <= n; i++) {
    const t = i / n, x = x0 + (x1 - x0) * t, y = y0 + (y1 - y0) * t;
    const h = hw * Math.sqrt(0.12 + 0.88 * (2 * t - 1) * (2 * t - 1));
    up.push(api.coord([x, y + h]));
    lo.unshift(api.coord([x, y - h]));
  }
  return { type: 'polygon', shape: { points: up.concat(lo) }, style: { fill: 'rgba(150,150,150,0.4)' } };
}

const grids = [], xAxes = [], yAxes = [], series = [], graphics = [];

for (let r = 0; r < 8; r++) {
  const rowTop = panelTop + r * rowH;
  for (let c = 0; c < 2; c++) {
    for (let p = 0; p < 3; p++) {
      const gi = grids.length;
      const panelIdx = c * 3 + p;
      grids.push({
        left: colLeft[c] + boxOffset[p], top: rowTop + boxTopOff, width: boxW, height: boxH,
        show: true, borderColor: '#505050', borderWidth: 1.3, backgroundColor: '#ffffff'
      });
      xAxes.push({
        gridIndex: gi, type: 'value', min: X_MIN, max: X_MAX,
        axisLine: { show: false }, splitLine: { show: false },
        axisTick: { show: true, length: 8, customValues: xTicks, lineStyle: { color: '#333333', width: 1.2 } },
        axisLabel: { show: true, customValues: xTicks, margin: 17, color: '#4d4d4d', fontSize: 18, fontFamily: FONT }
      });
      const firstCol = p === 0;
      yAxes.push({
        gridIndex: gi, type: 'value', min: Y_MIN, max: Y_MAX,
        axisLine: { show: false }, splitLine: { show: false },
        axisTick: { show: firstCol, length: 8, customValues: yTicks, lineStyle: { color: '#333333', width: 1.2 } },
        axisLabel: { show: firstCol, customValues: yTicks, margin: 18, color: '#4d4d4d', fontSize: 18, fontFamily: FONT,
                     formatter: v => v.toFixed(1) }
      });
      const fit = facetFits[r][panelIdx];
      series.push({
        type: 'scatter', xAxisIndex: gi, yAxisIndex: gi, data: pairs(facetPoints[r][panelIdx]),
        symbol: 'circle', symbolSize: 7.5, silent: true,
        itemStyle: { color: 'rgba(0,0,0,0.38)', borderColor: 'rgba(0,0,0,0.5)', borderWidth: 1.2 }, z: 2
      });
      series.push({
        type: 'custom', xAxisIndex: gi, yAxisIndex: gi, data: [fit], renderItem: renderBand,
        encode: { x: [0, 2], y: [1, 3] }, silent: true, z: 3
      });
      series.push({
        type: 'line', xAxisIndex: gi, yAxisIndex: gi, data: [[fit[0], fit[1]], [fit[2], fit[3]]],
        symbol: 'none', silent: true, lineStyle: { color: '#000000', width: 2.8 }, z: 4
      });
    }
    // axis titles for this facet cell
    graphics.push({
      type: 'text', x: colLeft[c] + 29, y: rowTop + 79, rotation: Math.PI / 2,
      style: { text: yTitle, fontSize: 23, fontFamily: FONT, fill: '#1a1a1a', align: 'center', verticalAlign: 'middle' }
    });
    graphics.push({
      type: 'text', x: colLeft[c] + 311.5, y: rowTop + 196,
      style: { text: xTitle, fontSize: 23, fontFamily: FONT, fill: '#1a1a1a', align: 'center', verticalAlign: 'middle' }
    });
    // cell frame
    graphics.push({
      type: 'rect', shape: { x: colLeft[c], y: rowTop, width: colRight[c] - colLeft[c], height: rowH },
      style: { fill: 'none', stroke: '#333333', lineWidth: 2 }, z: 10
    });
  }
  // right-hand push strip
  graphics.push({
    type: 'rect', shape: { x: stripX, y: rowTop, width: stripW, height: rowH },
    style: { fill: '#d9d9d9', stroke: '#333333', lineWidth: 1.5 }, z: 5
  });
  graphics.push({
    type: 'text', x: stripX + stripW / 2, y: rowTop + rowH / 2, rotation: -Math.PI / 2,
    style: { text: pushLabels[r], fontSize: 23, fontFamily: FONT, fill: '#333333', align: 'center', verticalAlign: 'middle' }, z: 6
  });
}

// column headers (k values)
for (let c = 0; c < 2; c++) {
  graphics.push({
    type: 'rect', shape: { x: colLeft[c], y: headTop, width: colRight[c] - colLeft[c], height: panelTop - headTop },
    style: { fill: '#dcdcdc', stroke: '#333333', lineWidth: 2 }, z: 5
  });
  graphics.push({
    type: 'text', x: (colLeft[c] + colRight[c]) / 2, y: (headTop + panelTop) / 2 + 1,
    style: { text: '{i|k} = ' + kLabels[c], fontSize: 22, fontFamily: FONT, fill: '#1a1a1a', align: 'center', verticalAlign: 'middle',
             rich: { i: { fontStyle: 'italic', fontSize: 22, fontFamily: FONT, fill: '#1a1a1a' } } }, z: 6
  });
}

// model group strips
modelRowSpans.forEach((span, m) => {
  const y0 = panelTop + span[0] * rowH, y1 = panelTop + (span[1] + 1) * rowH;
  graphics.push({
    type: 'rect', shape: { x: modelX, y: y0, width: modelW, height: y1 - y0 },
    style: { fill: modelColors[m], stroke: '#333333', lineWidth: 1.5 }, z: 5
  });
  graphics.push({
    type: 'text', x: modelX + 14.5, y: (y0 + y1) / 2, rotation: -Math.PI / 2,
    style: { text: modelLabels[m], fontSize: 23, fontFamily: FONT, fill: '#3a3a3a', align: 'center', verticalAlign: 'middle' }, z: 6
  });
});

const chart = echarts.init(document.getElementById('chart'), null, { renderer: 'canvas' });
chart.setOption({
  animation: false,
  backgroundColor: '#ffffff',
  grid: grids,
  xAxis: xAxes,
  yAxis: yAxes,
  series: series,
  graphic: graphics
});
</script>
</body>
</html>
